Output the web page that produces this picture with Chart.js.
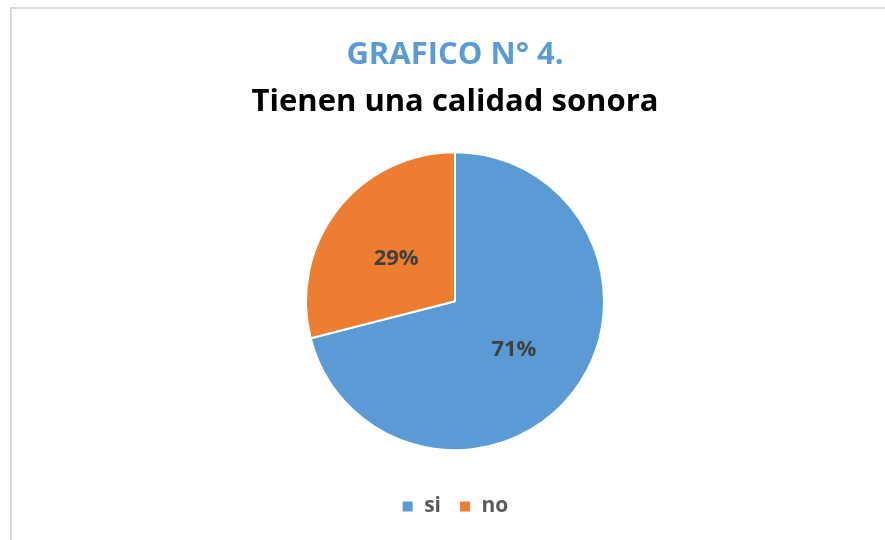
<!DOCTYPE html>
<html>
<head>
<meta charset="utf-8">
<script src="https://cdn.jsdelivr.net/npm/chart.js@4/dist/chart.umd.min.js"></script>
<style>
  html, body { margin: 0; padding: 0; width: 885px; height: 540px; overflow: hidden; background: #fff; }
  #frame { position: absolute; left: 10px; top: 7px; width: 900px; height: 560px; border: 2px solid #d9d9d9; }
  #wrap { position: absolute; left: 12px; top: 9px; width: 886px; height: 531px; }
</style>
</head>
<body>
<div id="frame"></div>
<div id="wrap"><canvas id="chart"></canvas></div>
<script>
// Chart data
const categories = ["si", "no"];
const values = [71, 29];
const sliceColors = ["#5B9BD5", "#ED7D31"];
const titleText = "GRAFICO N° 4.";
const subtitleText = "Tienen una calidad sonora";

/**
 * Draw the percentage label in the middle of each slice.
 */
const sliceLabels = {
  id: "sliceLabels",
  afterDatasetsDraw(chart) {
    const ctx = chart.ctx;
    const meta = chart.getDatasetMeta(0);
    const total = values.reduce((a, b) => a + b, 0);
    ctx.save();
    ctx.font = "bold 22px 'Open Sans'";
    ctx.fillStyle = "#404040";
    ctx.textAlign = "center";
    ctx.textBaseline = "middle";
    meta.data.forEach((arc, i) => {
      const pos = arc.tooltipPosition();
      const pct = Math.round(values[i] / total * 100) + "%";
      ctx.fillText(pct, pos.x, pos.y + 3);
    });
    ctx.restore();
  },
};

new Chart(document.getElementById("chart"), {
  type: "pie",
  data: {
    labels: categories,
    datasets: [{
      data: values,
      backgroundColor: sliceColors,
      borderColor: "#ffffff",
      borderWidth: 2,
      radius: 149,
    }],
  },
  options: {
    responsive: true,
    maintainAspectRatio: false,
    animation: false,
    layout: { padding: { bottom: 13 } },
    plugins: {
      title: {
        display: true,
        text: titleText,
        color: "#5B9BD5",
        font: { family: "'Open Sans'", size: 31, weight: "bold", lineHeight: 1.2 },
        padding: { top: 28, bottom: 0 },
      },
      subtitle: {
        display: true,
        text: subtitleText,
        color: "#000000",
        font: { family: "'Open Sans'", size: 31, weight: "bold", lineHeight: 1.2 },
        padding: { top: 9, bottom: 4 },
      },
      legend: {
        display: true,
        position: "bottom",
        labels: {
          boxWidth: 12,
          boxHeight: 12,
          padding: 18,
          color: "#595959",
          font: { family: "'Open Sans'", size: 21, weight: "bold" },
        },
      },
      tooltip: { enabled: false },
    },
  },
  plugins: [sliceLabels],
});
</script>
</body>
</html>
